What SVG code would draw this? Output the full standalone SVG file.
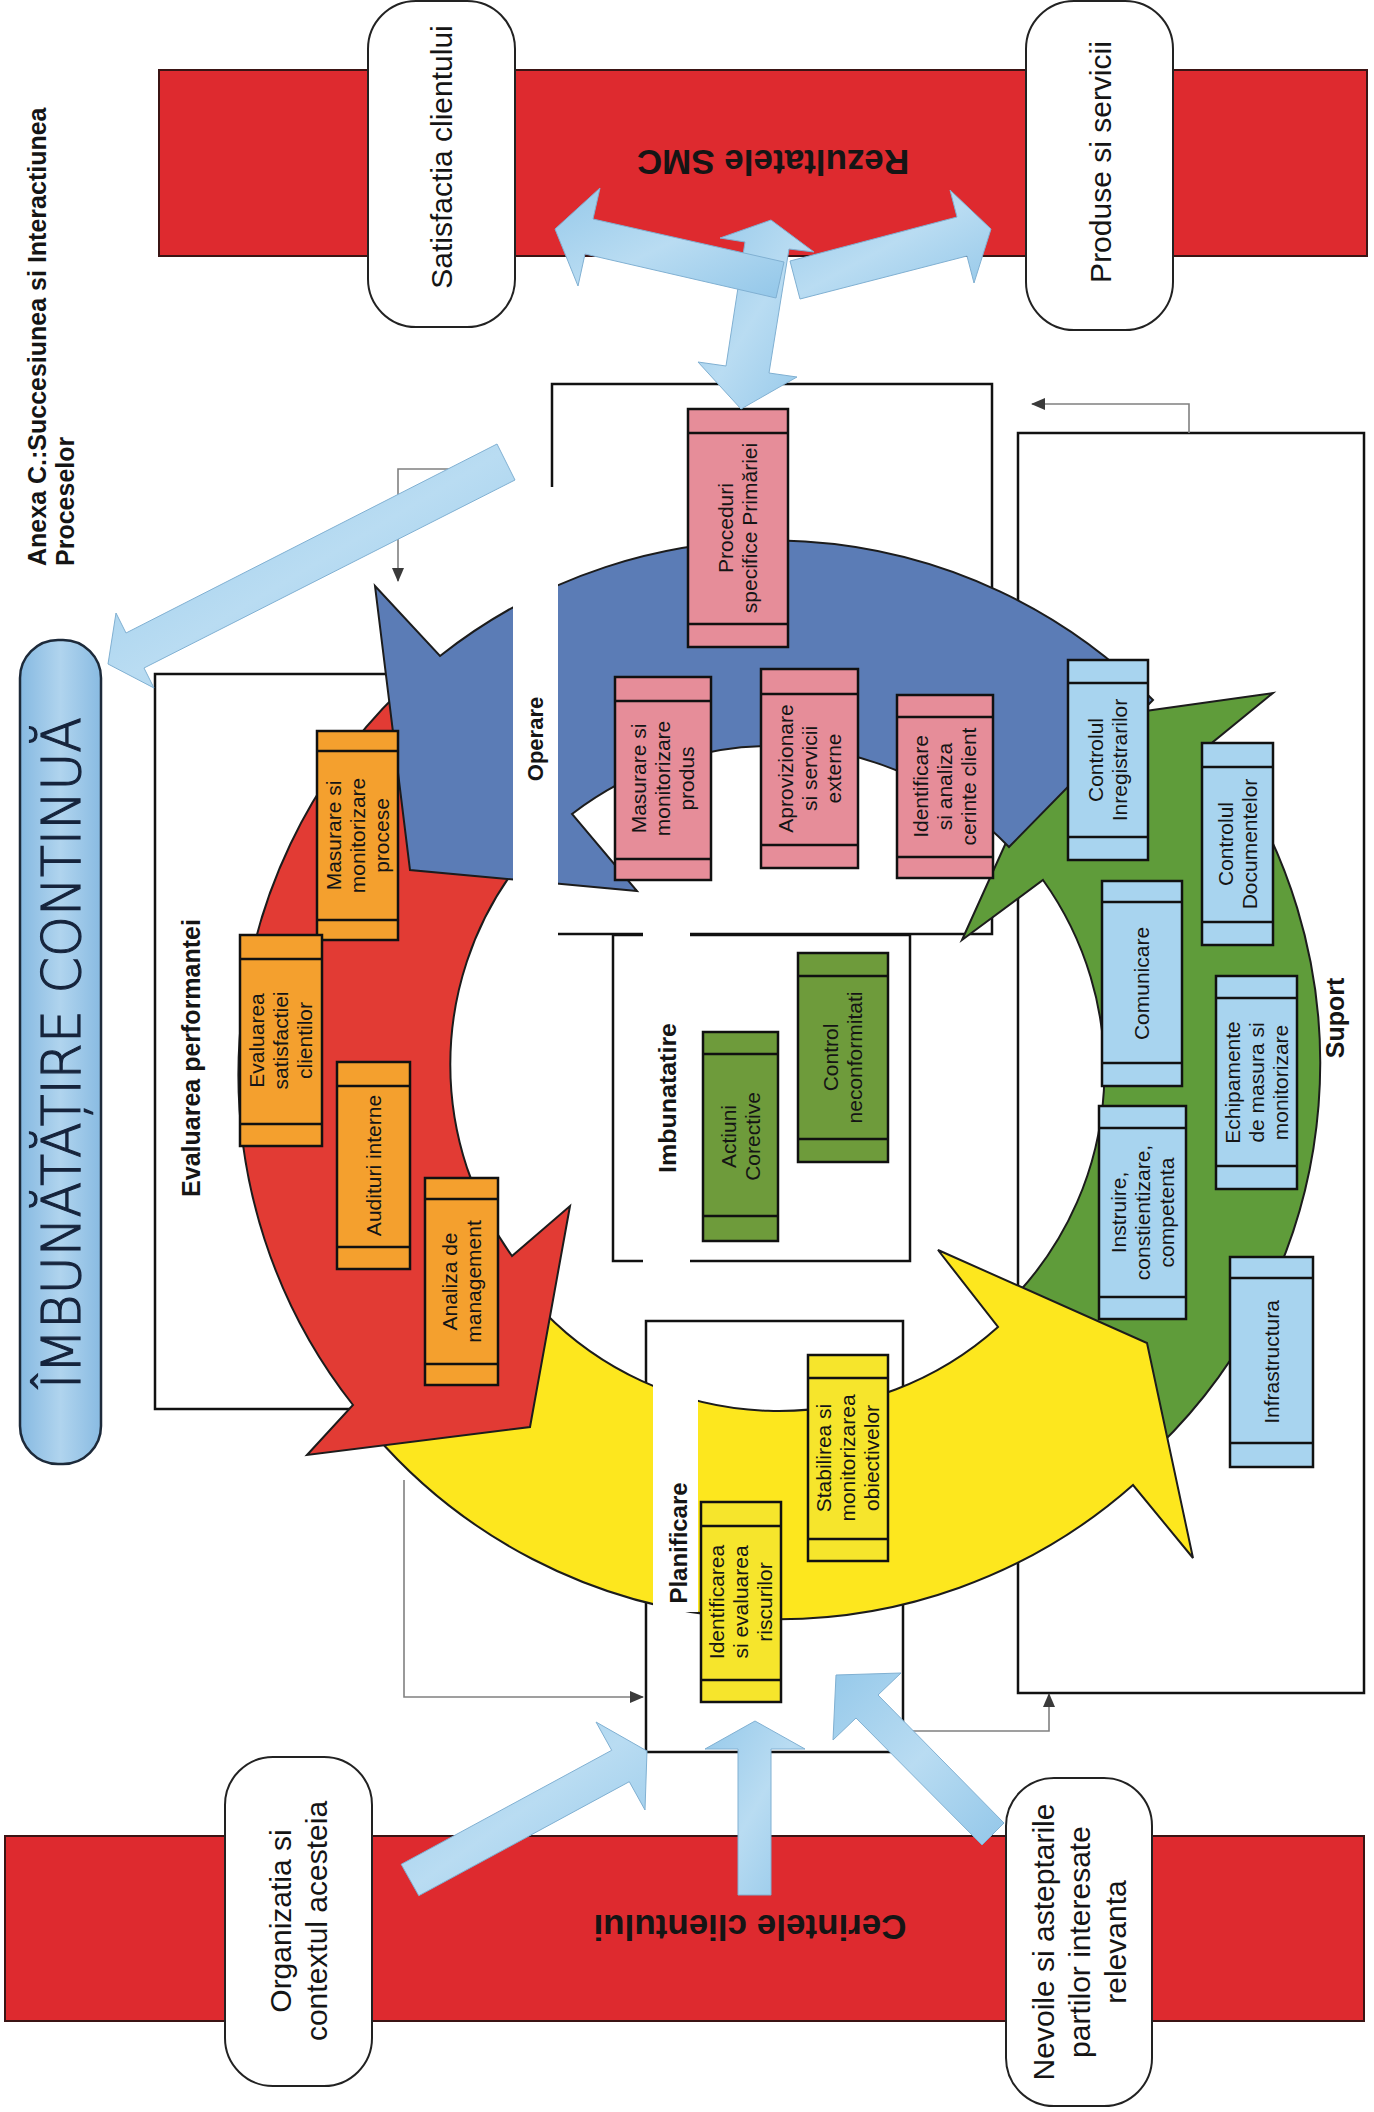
<svg xmlns="http://www.w3.org/2000/svg" width="1374" height="2112" viewBox="0 0 1374 2112">
<defs>
  <linearGradient id="lb" x1="0" y1="0" x2="1" y2="1">
    <stop offset="0" stop-color="#96c9ea"/>
    <stop offset="0.5" stop-color="#b9dcf2"/>
    <stop offset="1" stop-color="#93c7e9"/>
  </linearGradient>
  <linearGradient id="bannerFill" x1="0" y1="0" x2="1" y2="0">
    <stop offset="0" stop-color="#86b9e1"/>
    <stop offset="0.5" stop-color="#b0d4ee"/>
    <stop offset="1" stop-color="#89bbe2"/>
  </linearGradient>
  <marker id="tri" markerWidth="14" markerHeight="12" refX="13" refY="6" orient="auto" markerUnits="userSpaceOnUse">
    <path d="M0,0 L14,6 L0,12 z" fill="#3a3a3a"/>
  </marker>
  <style>
    .bar{fill:#de2a2f;stroke:#3b1414;stroke-width:2}
    .pill{fill:#fff;stroke:#222;stroke-width:2}
    .zone{fill:none;stroke:#111;stroke-width:2.5}
    .ring{stroke:#1c1c1c;stroke-width:2;stroke-linejoin:miter}
    .box rect,.box line{stroke:#111;stroke-width:2.5}
    .orange rect{fill:#f4a02e}
    .pink rect{fill:#e68d99}
    .sky rect{fill:#a8d4ef}
    .olive rect{fill:#6e9b3b}
    .lemon rect{fill:#f6e52c}
    .t{font-family:"Liberation Sans",Arial,sans-serif;fill:#151515}
    .bt{font-size:21px;text-anchor:middle}
    .lbl{font-size:30px;text-anchor:middle}
    .zt{font-weight:bold;text-anchor:middle}
    .conn{fill:none;stroke:#808080;stroke-width:1.6}
    .lba{fill:url(#lb);stroke:#80b0d2;stroke-width:1}
    .strip{fill:#fff}
  </style>
</defs>

<!-- input / output bars -->
<g id="bar-rezultate">
  <rect class="bar" x="159" y="70" width="1208" height="186"/>
  <text class="t" font-size="35" font-weight="bold" text-anchor="middle" fill="#2a1010" transform="translate(773,150) rotate(180)">Rezultatele SMC</text>
</g>
<g id="bar-cerinte">
  <rect class="bar" x="5" y="1836" width="1359" height="185"/>
  <text class="t" font-size="35" font-weight="bold" text-anchor="middle" fill="#2a1010" transform="translate(750,1915) rotate(180)">Cerintele clientului</text>
</g>

<!-- rounded labels on the bars -->
<g id="satisfactia">
  <rect class="pill" x="368" y="1" width="147" height="326" rx="48"/>
  <text class="t lbl" transform="translate(452,157) rotate(-90)">Satisfactia clientului</text>
</g>
<g id="produse">
  <rect class="pill" x="1026" y="1" width="147" height="329" rx="48"/>
  <text class="t lbl" transform="translate(1111,162) rotate(-90)">Produse si servicii</text>
</g>
<g id="organizatia">
  <rect class="pill" x="225" y="1757" width="147" height="329" rx="48"/>
  <text class="t lbl" transform="translate(298,1921) rotate(-90)"><tspan x="0" y="-7">Organizatia si</tspan><tspan x="0" y="29">contextul acesteia</tspan></text>
</g>
<g id="nevoile">
  <rect class="pill" x="1006" y="1778" width="146" height="328" rx="48"/>
  <text class="t lbl" transform="translate(1079,1942) rotate(-90)"><tspan x="0" y="-25">Nevoile si asteptarile</tspan><tspan x="0" y="11">partilor interesate</tspan><tspan x="0" y="47">relevanta</tspan></text>
</g>

<!-- title -->
<g id="title">
  <text class="t" font-size="25" font-weight="bold" transform="translate(46,566) rotate(-90)">Anexa C.:Succesiunea si Interactiunea</text>
  <text class="t" font-size="25" font-weight="bold" transform="translate(74,566) rotate(-90)">Proceselor</text>
</g>

<!-- continual improvement banner -->
<g id="imbunatatire-continua">
  <rect x="20" y="640" width="81" height="824" rx="38" fill="url(#bannerFill)" stroke="#1d2a3a" stroke-width="2.5"/>
  <text font-family="'DejaVu Sans',sans-serif" font-size="54" font-weight="300" fill="#16243c" stroke="#16243c" stroke-width="1.2" text-anchor="middle" textLength="672" lengthAdjust="spacingAndGlyphs" transform="translate(80,1053) rotate(-90)">ÎMBUNĂTĂȚIRE CONTINUĂ</text>
</g>

<!-- process area frames -->
<g id="zones">
  <rect id="zone-evaluare" class="zone" x="155" y="674" width="285" height="735"/>
  <rect id="zone-operare" class="zone" x="552" y="384" width="440" height="550"/>
  <rect id="zone-suport" class="zone" x="1018" y="433" width="346" height="1260"/>
  <rect id="zone-planificare" class="zone" x="646" y="1321" width="257" height="431"/>
  <rect id="zone-imbunatatire" class="zone" x="613" y="935" width="297" height="326"/>
</g>

<!-- PDCA ring: four curved arrows -->
<g id="cycle">
  <path id="arc-suport" class="ring" fill="#5f9c3a" d="M1157 1448 A535 535 0 0 0 1213 742 L1273 693 L1060 723 L962 940 L1043 880 A328 328 0 0 1 1018 1293 L1141 1345 Z"/>
  <path id="arc-planificare" class="ring" fill="#fde71e" d="M374 1434 A535 535 0 0 0 1133 1485 L1193 1558 L1147 1343 L938 1250 L998 1327 A328 328 0 0 1 544 1312 L528 1420 Z"/>
  <path id="arc-evaluare" class="ring" fill="#e23b34" d="M400 691 A535 535 0 0 0 353 1405 L307 1455 L530 1427 L570 1206 L512 1256 A328 328 0 0 1 512 873 L415 862 Z"/>
  <path id="arc-operare" class="ring" fill="#5b7cb6" d="M1153 700 A535 535 0 0 0 440 656 L375 586 L410 870 L637 891 L572 814 A328 328 0 0 1 1009 847 Z"/>
</g>

<!-- white label frames -->
<g id="label-frames">
  <rect class="strip" x="513" y="487" width="45" height="455"/>
  <rect class="strip" x="643" y="925" width="47" height="345"/>
  <rect class="strip" x="653" y="1326" width="45" height="286"/>
</g>

<!-- area labels -->
<g id="area-labels" class="t">
  <text class="zt" font-size="25" transform="translate(200,1058) rotate(-90)">Evaluarea performantei</text>
  <text class="zt" font-size="22" transform="translate(543,739) rotate(-90)">Operare</text>
  <text class="zt" font-size="24" textLength="150" lengthAdjust="spacingAndGlyphs" transform="translate(676,1098) rotate(-90)">Imbunatatire</text>
  <text class="zt" font-size="24" textLength="121" lengthAdjust="spacingAndGlyphs" transform="translate(687,1543) rotate(-90)">Planificare</text>
  <text class="zt" font-size="25" transform="translate(1344,1018) rotate(-90)">Suport</text>
</g>

<!-- Evaluarea performantei processes -->
<g id="masurare-procese" class="box orange">
  <rect x="317" y="731" width="81" height="209"/><line x1="317" y1="751" x2="398" y2="751"/><line x1="317" y1="920" x2="398" y2="920"/>
  <text class="t bt" transform="translate(357.5,835.5) rotate(-90)"><tspan x="0" y="-17">Masurare si</tspan><tspan x="0" y="7">monitorizare</tspan><tspan x="0" y="31">procese</tspan></text>
</g>
<g id="evaluarea-satisfactiei" class="box orange">
  <rect x="240" y="935" width="82" height="211"/><line x1="240" y1="959" x2="322" y2="959"/><line x1="240" y1="1124" x2="322" y2="1124"/>
  <text class="t bt" transform="translate(281,1040.5) rotate(-90)"><tspan x="0" y="-17">Evaluarea</tspan><tspan x="0" y="7">satisfactiei</tspan><tspan x="0" y="31">clientilor</tspan></text>
</g>
<g id="audituri" class="box orange">
  <rect x="337" y="1062" width="73" height="207"/><line x1="337" y1="1086" x2="410" y2="1086"/><line x1="337" y1="1247" x2="410" y2="1247"/>
  <text class="t bt" transform="translate(373.5,1165.5) rotate(-90)"><tspan x="0" y="7">Audituri interne</tspan></text>
</g>
<g id="analiza-management" class="box orange">
  <rect x="425" y="1178" width="73" height="207"/><line x1="425" y1="1199" x2="498" y2="1199"/><line x1="425" y1="1364" x2="498" y2="1364"/>
  <text class="t bt" transform="translate(461.5,1281.5) rotate(-90)"><tspan x="0" y="-5">Analiza de</tspan><tspan x="0" y="19">management</tspan></text>
</g>

<!-- Operare processes -->
<g id="proceduri" class="box pink">
  <rect x="688" y="409" width="100" height="238"/><line x1="688" y1="433" x2="788" y2="433"/><line x1="688" y1="624" x2="788" y2="624"/>
  <text class="t bt" transform="translate(738,528) rotate(-90)"><tspan x="0" y="-5">Proceduri</tspan><tspan x="0" y="19">specifice Primăriei</tspan></text>
</g>
<g id="masurare-produs" class="box pink">
  <rect x="615" y="677" width="96" height="203"/><line x1="615" y1="701" x2="711" y2="701"/><line x1="615" y1="859" x2="711" y2="859"/>
  <text class="t bt" transform="translate(663,778.5) rotate(-90)"><tspan x="0" y="-17">Masurare si</tspan><tspan x="0" y="7">monitorizare</tspan><tspan x="0" y="31">produs</tspan></text>
</g>
<g id="aprovizionare" class="box pink">
  <rect x="761" y="669" width="97" height="199"/><line x1="761" y1="694" x2="858" y2="694"/><line x1="761" y1="845" x2="858" y2="845"/>
  <text class="t bt" transform="translate(809.5,768.5) rotate(-90)"><tspan x="0" y="-17">Aprovizionare</tspan><tspan x="0" y="7">si servicii</tspan><tspan x="0" y="31">externe</tspan></text>
</g>
<g id="identificare-cerinte" class="box pink">
  <rect x="897" y="695" width="96" height="183"/><line x1="897" y1="717" x2="993" y2="717"/><line x1="897" y1="857" x2="993" y2="857"/>
  <text class="t bt" transform="translate(945,786.5) rotate(-90)"><tspan x="0" y="-17">Identificare</tspan><tspan x="0" y="7">si analiza</tspan><tspan x="0" y="31">cerinte client</tspan></text>
</g>

<!-- Suport processes -->
<g id="controlul-inregistrarilor" class="box sky">
  <rect x="1068" y="660" width="80" height="200"/><line x1="1068" y1="683" x2="1148" y2="683"/><line x1="1068" y1="837" x2="1148" y2="837"/>
  <text class="t bt" transform="translate(1108,760) rotate(-90)"><tspan x="0" y="-5">Controlul</tspan><tspan x="0" y="19">Inregistrarilor</tspan></text>
</g>
<g id="controlul-documentelor" class="box sky">
  <rect x="1202" y="743" width="71" height="202"/><line x1="1202" y1="767" x2="1273" y2="767"/><line x1="1202" y1="922" x2="1273" y2="922"/>
  <text class="t bt" transform="translate(1237.5,844) rotate(-90)"><tspan x="0" y="-5">Controlul</tspan><tspan x="0" y="19">Documentelor</tspan></text>
</g>
<g id="comunicare" class="box sky">
  <rect x="1102" y="881" width="80" height="205"/><line x1="1102" y1="902" x2="1182" y2="902"/><line x1="1102" y1="1063" x2="1182" y2="1063"/>
  <text class="t bt" transform="translate(1142,983.5) rotate(-90)"><tspan x="0" y="7">Comunicare</tspan></text>
</g>
<g id="echipamente" class="box sky">
  <rect x="1216" y="976" width="81" height="213"/><line x1="1216" y1="998" x2="1297" y2="998"/><line x1="1216" y1="1166" x2="1297" y2="1166"/>
  <text class="t bt" transform="translate(1256.5,1082.5) rotate(-90)"><tspan x="0" y="-17">Echipamente</tspan><tspan x="0" y="7">de masura si</tspan><tspan x="0" y="31">monitorizare</tspan></text>
</g>
<g id="instruire" class="box sky">
  <rect x="1099" y="1106" width="87" height="213"/><line x1="1099" y1="1128" x2="1186" y2="1128"/><line x1="1099" y1="1297" x2="1186" y2="1297"/>
  <text class="t bt" transform="translate(1142.5,1212.5) rotate(-90)"><tspan x="0" y="-17">Instruire,</tspan><tspan x="0" y="7">constientizare,</tspan><tspan x="0" y="31">competenta</tspan></text>
</g>
<g id="infrastructura" class="box sky">
  <rect x="1230" y="1257" width="83" height="210"/><line x1="1230" y1="1278" x2="1313" y2="1278"/><line x1="1230" y1="1443" x2="1313" y2="1443"/>
  <text class="t bt" transform="translate(1271.5,1362) rotate(-90)"><tspan x="0" y="7">Infrastructura</tspan></text>
</g>

<!-- Imbunatatire processes -->
<g id="actiuni-corective" class="box olive">
  <rect x="703" y="1032" width="75" height="209"/><line x1="703" y1="1054" x2="778" y2="1054"/><line x1="703" y1="1216" x2="778" y2="1216"/>
  <text class="t bt" transform="translate(740.5,1136.5) rotate(-90)"><tspan x="0" y="-5">Actiuni</tspan><tspan x="0" y="19">Corective</tspan></text>
</g>
<g id="control-neconformitati" class="box olive">
  <rect x="798" y="953" width="90" height="209"/><line x1="798" y1="976" x2="888" y2="976"/><line x1="798" y1="1139" x2="888" y2="1139"/>
  <text class="t bt" transform="translate(843,1057.5) rotate(-90)"><tspan x="0" y="-5">Control</tspan><tspan x="0" y="19">neconformitati</tspan></text>
</g>

<!-- Planificare processes -->
<g id="identificarea-riscurilor" class="box lemon">
  <rect x="701" y="1502" width="80" height="200"/><line x1="701" y1="1526" x2="781" y2="1526"/><line x1="701" y1="1680" x2="781" y2="1680"/>
  <text class="t bt" transform="translate(741,1602) rotate(-90)"><tspan x="0" y="-17">Identificarea</tspan><tspan x="0" y="7">si evaluarea</tspan><tspan x="0" y="31">riscurilor</tspan></text>
</g>
<g id="stabilirea-obiectivelor" class="box lemon">
  <rect x="808" y="1355" width="80" height="206"/><line x1="808" y1="1378" x2="888" y2="1378"/><line x1="808" y1="1539" x2="888" y2="1539"/>
  <text class="t bt" transform="translate(848,1458) rotate(-90)"><tspan x="0" y="-17">Stabilirea si</tspan><tspan x="0" y="7">monitorizarea</tspan><tspan x="0" y="31">obiectivelor</tspan></text>
</g>

<!-- thin feedback connectors -->
<g id="connectors">
  <path class="conn" marker-end="url(#tri)" d="M505 469 H398 V581"/>
  <path class="conn" marker-end="url(#tri)" d="M1189 433 V404 H1032"/>
  <path class="conn" marker-end="url(#tri)" d="M903 1731 H1049 V1694"/>
  <path class="conn" marker-end="url(#tri)" d="M404 1480 V1697 H643"/>
</g>

<!-- broad flow arrows -->
<g id="flow-arrows">
  <polygon id="flow-operare-rezultate" class="lba" points="771,220 814,252 789,249 769,373 797,377 741,409 698,362 726,366 745,242 720,238"/>
  <polygon id="flow-satisfactie" class="lba" points="555,229 600,188 593,219 784,262 776,298 585,254 578,286"/>
  <polygon id="flow-produse" class="lba" points="991,229 974,283 967,256 800,299 790,261 957,217 950,190"/>
  <polygon id="flow-imbunatatire" class="lba" points="108,664 116,613 126,633 497,444 515,480 144,668 154,688"/>
  <polygon id="flow-organizatia" class="lba" points="647,1751 596,1722 611.7,1750.3 401.2,1864.3 418.8,1895.7 629.3,1781.7 645,1810"/>
  <polygon id="flow-cerinte" class="lba" points="755,1721 805,1749 771,1749 771,1895 738,1895 738,1749 705,1749"/>
  <polygon id="flow-nevoile" class="lba" points="836,1675 901,1673 878,1695 1004,1823 982,1845 856,1718 833,1740"/>
</g>
</svg>
